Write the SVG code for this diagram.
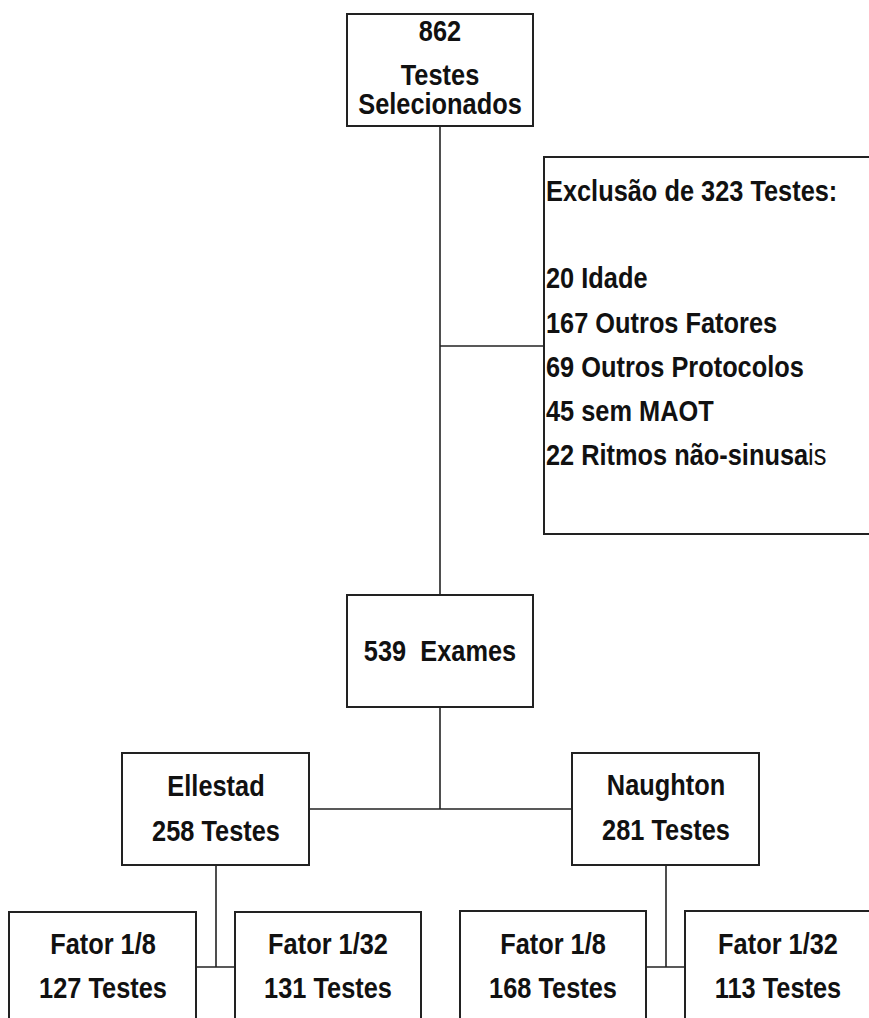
<svg xmlns="http://www.w3.org/2000/svg" width="869" height="1018" viewBox="0 0 869 1018">
<style>
.box{fill:#fff;stroke:#222;stroke-width:2}
.ln{fill:none;stroke:#222;stroke-width:1.6}
text{font-family:"Liberation Sans",Arial,sans-serif;font-weight:bold;font-size:29.5px;fill:#111}
.c{text-anchor:middle}
</style>
<rect width="869" height="1018" fill="#fff"/>
<g id="connectors">
<line class="ln" x1="440" y1="126" x2="440" y2="595"/>
<line class="ln" x1="440" y1="346" x2="544" y2="346"/>
<line class="ln" x1="440" y1="707" x2="440" y2="809"/>
<line class="ln" x1="309" y1="809" x2="572" y2="809"/>
<line class="ln" x1="216" y1="865" x2="216" y2="967"/>
<line class="ln" x1="196" y1="967" x2="235" y2="967"/>
<line class="ln" x1="666" y1="865" x2="666" y2="967"/>
<line class="ln" x1="646" y1="967" x2="685" y2="967"/>
</g>
<g id="n862">
<rect class="box" x="347" y="14" width="186" height="112"/>
<text class="c" transform="translate(440,41) scale(0.86,1)">862</text>
<text class="c" transform="translate(440,85) scale(0.86,1)">Testes</text>
<text class="c" transform="translate(440,114) scale(0.86,1)">Selecionados</text>
</g>
<g id="exclusao">
<rect class="box" x="544" y="157" width="330" height="377"/>
<text transform="translate(546,201) scale(0.86,1)">Exclusão de 323 Testes:</text>
<text transform="translate(546,288) scale(0.86,1)">20 Idade</text>
<text transform="translate(546,333) scale(0.86,1)">167 Outros Fatores</text>
<text transform="translate(546,377) scale(0.86,1)">69 Outros Protocolos</text>
<text transform="translate(546,421) scale(0.86,1)">45 sem MAOT</text>
<text transform="translate(546,465) scale(0.86,1)">22 Ritmos não-sinusa<tspan font-weight="normal">is</tspan></text>
</g>
<g id="exames">
<rect class="box" x="347" y="595" width="186" height="112"/>
<text class="c" transform="translate(440,661) scale(0.86,1)" xml:space="preserve">539  Exames</text>
</g>
<g id="ellestad">
<rect class="box" x="122" y="753" width="187" height="112"/>
<text class="c" transform="translate(216,796) scale(0.86,1)">Ellestad</text>
<text class="c" transform="translate(216,841) scale(0.86,1)">258 Testes</text>
</g>
<g id="naughton">
<rect class="box" x="572" y="753" width="187" height="112"/>
<text class="c" transform="translate(666,795) scale(0.86,1)">Naughton</text>
<text class="c" transform="translate(666,840) scale(0.86,1)">281 Testes</text>
</g>
<g id="e18">
<rect class="box" x="9" y="912" width="187" height="130"/>
<text class="c" transform="translate(103,954) scale(0.86,1)">Fator 1/8</text>
<text class="c" transform="translate(103,998) scale(0.86,1)">127 Testes</text>
</g>
<g id="e132">
<rect class="box" x="235" y="912" width="186" height="130"/>
<text class="c" transform="translate(328,954) scale(0.86,1)">Fator 1/32</text>
<text class="c" transform="translate(328,998) scale(0.86,1)">131 Testes</text>
</g>
<g id="n18">
<rect class="box" x="460" y="911" width="186" height="130"/>
<text class="c" transform="translate(553,954) scale(0.86,1)">Fator 1/8</text>
<text class="c" transform="translate(553,998) scale(0.86,1)">168 Testes</text>
</g>
<g id="n132">
<rect class="box" x="685" y="911" width="186" height="130"/>
<text class="c" transform="translate(778,954) scale(0.86,1)">Fator 1/32</text>
<text class="c" transform="translate(778,998) scale(0.86,1)">113 Testes</text>
</g>
</svg>
